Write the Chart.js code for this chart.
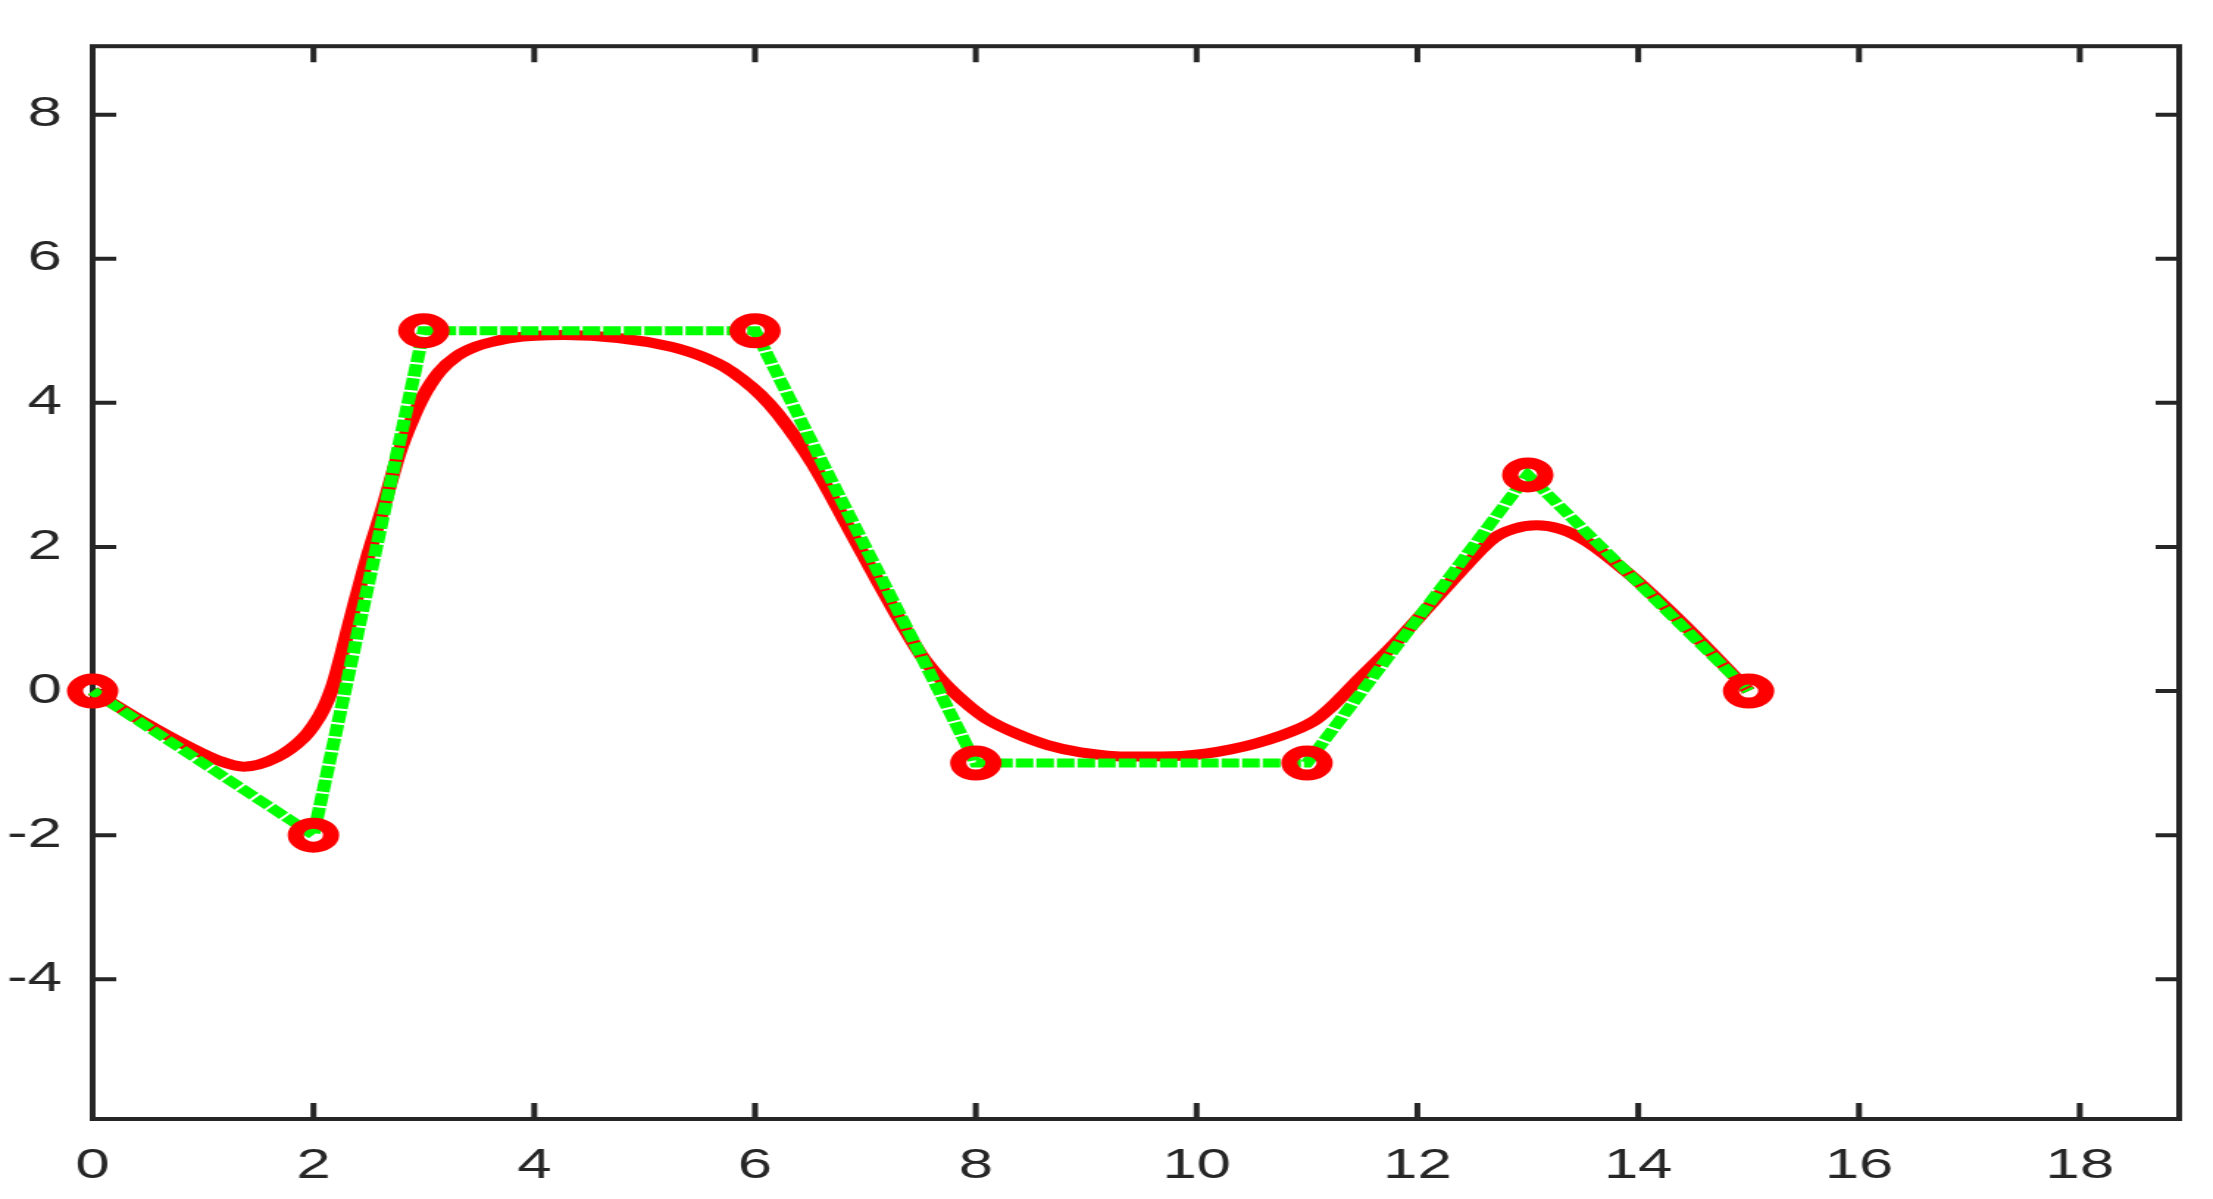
<!DOCTYPE html>
<html>
<head>
<meta charset="utf-8">
<title>spline</title>
<script src="https://cdn.jsdelivr.net/npm/chart.js@4.4.1/dist/chart.umd.min.js"></script>
<style>
    html, body { margin: 0; padding: 0; background: #fff; overflow: hidden; }
    /* the reference is stretched sideways, so draw narrow and stretch */
    #wrap { width: 1505px; height: 1199px; transform: scaleX(1.4704); transform-origin: 0 0; }
</style>
</head>
<body>
<div id="wrap"><canvas id="splineChart"></canvas></div>
<script>
// control polygon
const ctrlX = [0, 2, 3, 6, 8, 11, 13, 15];
const ctrlY = [0, -2, 5, 5, -1, -1, 3, 0];

// smooth curve
const curveX = [0, 0.45, 0.88, 1.15, 1.37, 1.67, 1.91, 2.0, 2.09, 2.16, 2.22, 2.33, 2.48, 2.63, 2.78, 2.87, 2.99, 3.14, 3.30, 3.47,
    3.63, 3.79, 4.27, 4.76, 5.24, 5.40, 5.56, 5.72, 5.89, 6.05, 6.21, 6.53, 6.85, 7.18, 7.50, 7.65, 7.80, 7.95, 8.10, 8.35,
    8.65, 8.95, 9.41, 9.86, 10.31, 10.76, 11.06, 11.20, 11.48, 11.79, 12.09, 12.39, 12.69, 12.87, 13.08, 13.29, 13.53, 13.89, 14.19,
    14.50, 14.80, 15];
const curveY = [0, -0.42, -0.78, -0.97, -1.05, -0.92, -0.65, -0.48, -0.25, 0.0, 0.30, 0.95, 1.80, 2.54, 3.32, 3.68, 4.08, 4.43, 4.65, 4.78,
    4.85, 4.90, 4.94, 4.90, 4.78, 4.71, 4.62, 4.50, 4.32, 4.11, 3.84, 3.14, 2.26, 1.34, 0.51, 0.22, -0.02, -0.22, -0.39, -0.58,
    -0.75, -0.85, -0.91, -0.90, -0.81, -0.62, -0.42, -0.25, 0.18, 0.65, 1.15, 1.66, 2.12, 2.25, 2.30, 2.25, 2.08, 1.66, 1.25,
    0.79, 0.32, 0];

const xTicks = [0, 2, 4, 6, 8, 10, 12, 14, 16, 18];
const yTicks = [-4, -2, 0, 2, 4, 6, 8];

const X_MIN = 0, X_MAX = 18.9;
const Y_MIN = -5.94, Y_MAX = 8.95;

const AXIS_COLOR = '#262626';
const TICK_LEN = 16;
const labelFont = { family: "'Liberation Sans', Arial, Helvetica, sans-serif", size: 42 };

const toPoints = (xs, ys) => xs.map((x, i) => ({ x: x, y: ys[i] }));

// box round the plot with inward ticks on all four sides
const frameTicks = {
    id: 'frameTicks',
    beforeDatasetsDraw: (chart) => {
        const { ctx, chartArea: a, scales } = chart;
        ctx.save();
        ctx.strokeStyle = AXIS_COLOR;
        ctx.lineWidth = 4;
        ctx.lineCap = 'butt';
        ctx.beginPath();
        xTicks.forEach(v => {
            const px = scales.x.getPixelForValue(v);
            ctx.moveTo(px, a.bottom);
            ctx.lineTo(px, a.bottom - TICK_LEN);
            ctx.moveTo(px, a.top);
            ctx.lineTo(px, a.top + TICK_LEN);
        });
        yTicks.forEach(v => {
            const py = scales.y.getPixelForValue(v);
            ctx.moveTo(a.left, py);
            ctx.lineTo(a.left + TICK_LEN, py);
            ctx.moveTo(a.right, py);
            ctx.lineTo(a.right - TICK_LEN, py);
        });
        ctx.stroke();
        ctx.strokeRect(a.left, a.top, a.right - a.left, a.bottom - a.top);
        ctx.restore();
    }
};

new Chart(document.getElementById('splineChart'), {
    type: 'line',
    data: {
        datasets: [
            {
                label: 'control',
                data: toPoints(ctrlX, ctrlY),
                borderColor: '#00ff00',
                borderWidth: 9,
                borderDash: [12, 2],
                borderCapStyle: 'butt',
                tension: 0,
                pointStyle: 'circle',
                pointRadius: 12,
                pointBorderWidth: 11,
                pointBorderColor: '#ff0000',
                pointBackgroundColor: 'rgba(0,0,0,0)',
                clip: false,
                order: 0
            },
            {
                label: 'curve',
                data: toPoints(curveX, curveY),
                borderColor: '#ff0000',
                borderWidth: 10,
                pointRadius: 0,
                cubicInterpolationMode: 'monotone',
                clip: false,
                order: 1
            }
        ]
    },
    options: {
        responsive: true,
        maintainAspectRatio: false,
        animation: false,
        events: [],
        layout: { padding: { top: 44, right: 19, left: 0, bottom: 0 } },
        plugins: {
            legend: { display: false },
            tooltip: { enabled: false }
        },
        scales: {
            x: {
                type: 'linear',
                min: X_MIN,
                max: X_MAX,
                afterBuildTicks: (s) => { s.ticks = xTicks.map(v => ({ value: v })); },
                afterFit: (s) => { s.height = 80; },
                grid: { display: false, drawTicks: false },
                border: { display: false },
                ticks: {
                    color: AXIS_COLOR, font: labelFont, padding: 22,
                    autoSkip: false, maxRotation: 0,
                    callback: (v) => String(v)
                }
            },
            y: {
                type: 'linear',
                min: Y_MIN,
                max: Y_MAX,
                afterBuildTicks: (s) => { s.ticks = yTicks.map(v => ({ value: v })); },
                afterFit: (s) => { s.width = 63; },
                grid: { display: false, drawTicks: false },
                border: { display: false },
                ticks: {
                    color: AXIS_COLOR, font: labelFont, padding: 21,
                    autoSkip: false,
                    callback: (v) => String(v)
                }
            }
        }
    },
    plugins: [frameTicks]
});
</script>
</body>
</html>
